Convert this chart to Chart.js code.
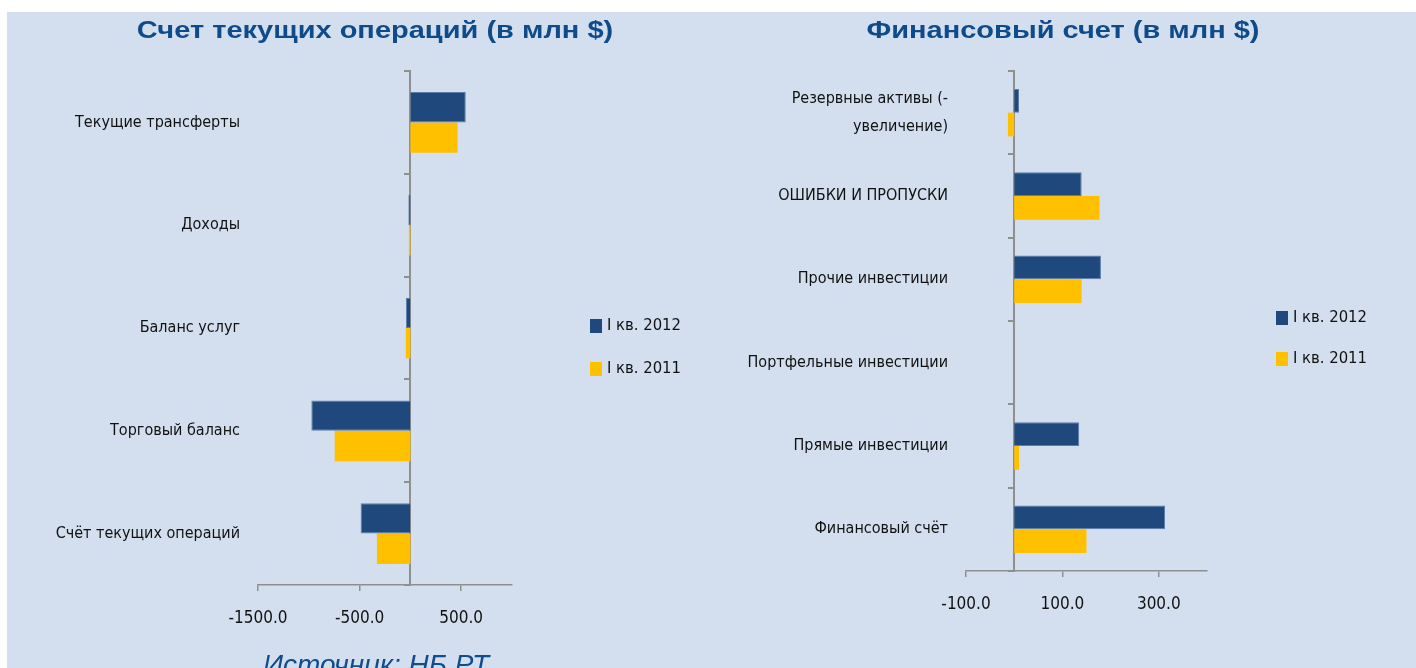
<!DOCTYPE html>
<html>
<head>
<meta charset="utf-8">
<script src="https://cdn.jsdelivr.net/npm/chart.js@4/dist/chart.umd.min.js"></script>
<style>
  html, body { margin: 0; padding: 0; width: 1416px; height: 668px; overflow: hidden; background: #fff; }
  #panel { position: absolute; left: 7px; top: 12px; width: 1409px; height: 656px; background: #d3dfee; }
  canvas { position: absolute; top: 0; }
  #c1 { left: 0; }
  #c2 { left: 708px; }
  .title { position: absolute; top: 14px; height: 32px; line-height: 32px; text-align: center;
           font: bold 29px "Liberation Sans", Arial, sans-serif; color: #0f4a8a; white-space: nowrap;
           transform: scale(1, 0.82); }
  #src { position: absolute; left: 263px; top: 649px; line-height: 24px;
         font: italic 28px "Liberation Sans", Arial, sans-serif; color: #114c8c; white-space: nowrap; }
</style>
</head>
<body>
<div id="panel"></div>
<canvas id="c1" width="708" height="668"></canvas>
<canvas id="c2" width="708" height="668"></canvas>
<div class="title" style="left:0;width:750px">Счет текущих операций (в млн $)</div>
<div class="title" style="left:763px;width:600px">Финансовый счет (в млн $)</div>
<div id="src">Источник: НБ РТ</div>
<script>
// данные
const seriesNames = ['I кв. 2012', 'I кв. 2011'];

const leftLabels = ['Текущие трансферты', 'Доходы', 'Баланс услуг', 'Торговый баланс', 'Счёт текущих операций'];
const left2012 = [545, -20, -45, -975, -490];
const left2011 = [465, -15, -45, -745, -330];
const leftTicks = [-1500, -500, 500];

const rightLabels = [['Резервные активы (-', 'увеличение)'], 'ОШИБКИ И ПРОПУСКИ', 'Прочие инвестиции',
  'Портфельные инвестиции', 'Прямые инвестиции', 'Финансовый счёт'];
const right2012 = [10, 140, 180, 0, 135, 313];
const right2011 = [-13, 177, 140, 0, 10, 150];
const rightTicks = [-100, 100, 300];

const BLUE = '#1f497d';
const GOLD = '#ffc000';
const AXIS = '#8f8f8f';
const FONT = '"Liberation Sans Narrow", "Arial Narrow", "DejaVu Sans Condensed", sans-serif';

// легенда справа от графика
const sideLegend = {
  id: 'sideLegend',
  afterDraw(chart, args, opts) {
    const ctx = chart.ctx;
    ctx.save();
    chart.data.datasets.forEach((ds, i) => {
      const y = opts.y + i * opts.gap;
      ctx.fillStyle = ds.backgroundColor;
      ctx.fillRect(opts.x, y - 7, 12, 14);
      ctx.fillStyle = '#111';
      ctx.font = '16.5px ' + FONT;
      ctx.textBaseline = 'middle';
      ctx.fillText(ds.label, opts.x + 17, y);
    });
    ctx.restore();
  }
};

function makeChart(id, labels, d2012, d2011, ticks, min, max, area, legend) {
  return new Chart(document.getElementById(id), {
    type: 'bar',
    data: {
      labels: labels,
      datasets: [
        { label: seriesNames[0], data: d2012, backgroundColor: BLUE, borderColor: '#5b7cab', borderWidth: 1, yAxisID: 'y' },
        { label: seriesNames[1], data: d2011, backgroundColor: GOLD, borderWidth: 0, yAxisID: 'y' }
      ]
    },
    options: {
      indexAxis: 'y',
      responsive: false,
      animation: false,
      categoryPercentage: area.cat,
      barPercentage: 1,
      layout: { padding: { left: 0, top: area.top, right: area.right, bottom: area.bottom } },
      plugins: {
        legend: { display: false },
        tooltip: { enabled: false },
        sideLegend: legend
      },
      scales: {
        y: {
          type: 'category',
          position: 'left',
          border: { display: false },
          grid: { display: false, drawTicks: false },
          ticks: { color: '#111', font: { family: FONT, size: 16, lineHeight: 1.75 }, padding: 18, autoSkip: false },
          afterFit(s) { s.width = area.left; }
        },
        y0: {
          type: 'category',
          axis: 'y',
          position: { x: 0 },
          offset: true,
          border: { color: AXIS, width: 2 },
          grid: { offset: true, drawOnChartArea: false, drawTicks: true, tickLength: 5, color: AXIS, lineWidth: 2 },
          ticks: { display: false }
        },
        x: {
          type: 'linear',
          position: 'bottom',
          min: min,
          max: max,
          border: { color: AXIS, width: 1.5 },
          grid: { drawOnChartArea: false, drawTicks: true, tickLength: 6, color: AXIS, lineWidth: 1.5 },
          ticks: { color: '#111', font: { family: FONT, size: 17 }, padding: 17, maxRotation: 0,
                   callback: v => Number(v).toFixed(1) },
          afterBuildTicks(s) { s.ticks = ticks.map(v => ({ value: v })); },
          afterFit(s) { s.height = 50; }
        }
      }
    },
    plugins: [sideLegend]
  });
}

makeChart('c1', leftLabels, left2012, left2011, leftTicks, -1500, 1000,
  { left: 258, top: 71, right: 196, bottom: 33, cat: 0.59 },
  { x: 590, y: 326, gap: 43 });

makeChart('c2', rightLabels, right2012, right2011, rightTicks, -100, 400,
  { left: 258, top: 71, right: 209, bottom: 47, cat: 0.57 },
  { x: 568, y: 318, gap: 41 });
</script>
</body>
</html>
